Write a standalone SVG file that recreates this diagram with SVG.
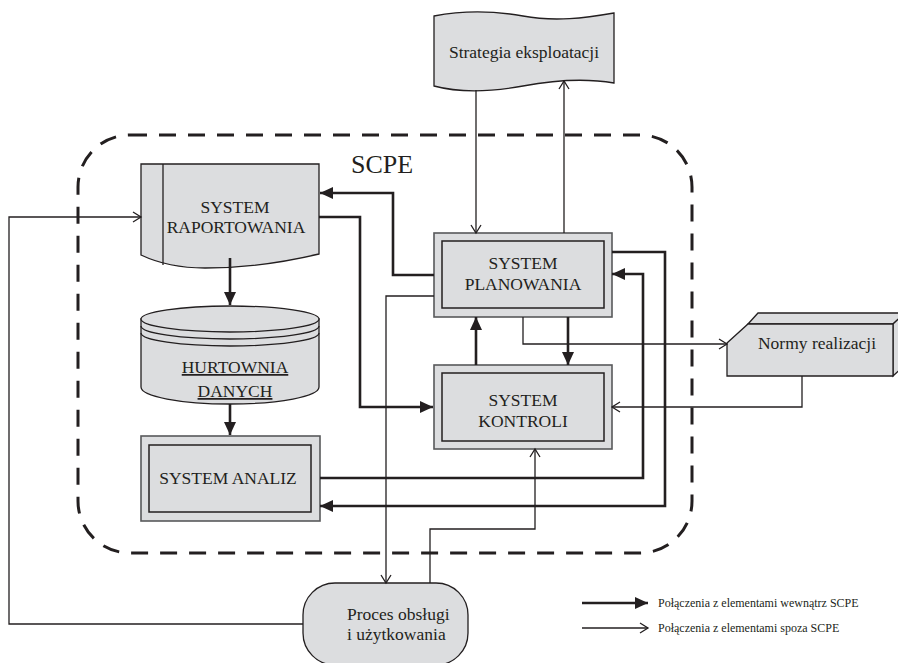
<svg xmlns="http://www.w3.org/2000/svg" width="898" height="663" viewBox="0 0 898 663">
<style>
text{font-family:"Liberation Serif","Times New Roman",serif;fill:#231f20;}
.t{font-size:17.5px;text-anchor:middle;}
.shape{fill:#dcdddf;stroke:#231f20;stroke-width:1.3;}
.outer{fill:#dcdddf;stroke:#58595b;stroke-width:1.6;}
.inner{fill:#dcdddf;stroke:#231f20;stroke-width:1.5;}
.thick{fill:none;stroke:#231f20;stroke-width:2.6;marker-end:url(#af);}
.thin{fill:none;stroke:#231f20;stroke-width:1.3;marker-end:url(#ao);}
.plain{fill:none;stroke:#231f20;stroke-width:1.3;}
</style>
<defs>
<marker id="af" markerUnits="userSpaceOnUse" markerWidth="14" markerHeight="12" refX="13" refY="6" orient="auto"><path d="M0,0 L13,6 L0,12 z" fill="#231f20"/></marker>
<marker id="ao" markerUnits="userSpaceOnUse" markerWidth="12" markerHeight="12" refX="10" refY="6" orient="auto"><path d="M2,1 L10,6 L2,11" fill="none" stroke="#231f20" stroke-width="1.3"/></marker>
</defs>
<rect width="898" height="663" fill="#ffffff"/>

<g id="boundary">
<rect x="78" y="135" width="614" height="418" rx="52" fill="none" stroke="#231f20" stroke-width="3" stroke-dasharray="17,12"/>
<text x="382" y="173" style="font-size:26px;text-anchor:middle">SCPE</text>
</g>

<g id="strategia">
<path class="shape" d="M434,16 C465,10 495,11 523,16 C555,22 585,18 614,13 L614,83 C585,78 555,80 523,86 C490,92 460,93 434,86 Z"/>
<text class="t" x="524" y="58">Strategia eksploatacji</text>
</g>

<g id="raportowania">
<path class="shape" d="M141,164 H319 V254 C285,262 250,268 205,268 C180,268 160,264 141,255 Z"/>
<line x1="163" y1="164" x2="163" y2="265" stroke="#231f20" stroke-width="1.3"/>
<text class="t" x="235" y="213">SYSTEM</text>
<text class="t" x="236" y="233">RAPORTOWANIA</text>
</g>

<g id="hurtownia">
<path class="shape" d="M141,319 V387 A89,17 0 0 0 319,387 V319 Z"/>
<ellipse class="shape" cx="230" cy="319" rx="89" ry="13"/>
<path class="plain" d="M141,326 A89,13 0 0 0 319,326"/>
<path class="plain" d="M141,333 A89,13 0 0 0 319,333"/>
<text class="t" x="235" y="373" text-decoration="underline">HURTOWNIA</text>
<text class="t" x="235" y="397" text-decoration="underline">DANYCH</text>
</g>

<g id="analiz">
<rect class="outer" x="141" y="436" width="179" height="85"/>
<rect class="inner" x="149" y="445" width="162" height="67"/>
<text class="t" x="228" y="484">SYSTEM ANALIZ</text>
</g>

<g id="planowania">
<rect class="outer" x="434" y="233" width="178" height="84"/>
<rect class="inner" x="442" y="241" width="162" height="67"/>
<text class="t" x="523" y="269">SYSTEM</text>
<text class="t" x="523" y="290">PLANOWANIA</text>
</g>

<g id="kontroli">
<rect class="outer" x="434" y="365" width="178" height="84"/>
<rect class="inner" x="442" y="373" width="162" height="68"/>
<text class="t" x="523" y="406">SYSTEM</text>
<text class="t" x="523" y="427">KONTROLI</text>
</g>

<g id="normy">
<path class="shape" d="M748,324 L758,313 L905,313 L893,324 Z"/>
<path class="shape" d="M893,324 L905,313 L905,365 L893,376 Z"/>
<path class="shape" d="M727,343 L748,324 L893,324 L893,376 L727,376 Z"/>
<text class="t" x="817" y="349">Normy realizacji</text>
</g>

<g id="proces">
<rect class="shape" x="303" y="583" width="165" height="82" rx="32"/>
<text x="347" y="620" style="font-size:17.5px">Proces obsługi</text>
<text x="347" y="640" style="font-size:17.5px">i użytkowania</text>
</g>

<g id="connectors">
<path class="thick" d="M230,258 V305"/>
<path class="thick" d="M230,404 V435"/>
<path class="thick" d="M434,275 H393 V193 H320"/>
<path class="thick" d="M319,217 H360 V407 H433"/>
<path class="thin" d="M434,296 H386 V583"/>
<path class="thin" d="M476,90 V233"/>
<path class="thin" d="M564,233 V81"/>
<path class="thin" d="M523,317 V344 H727"/>
<path class="thick" d="M568,317 V365"/>
<path class="thick" d="M476,365 V317"/>
<path class="thin" d="M802,376 V407 H612"/>
<path class="thin" d="M430,583 V529 H535 V449"/>
<path class="thick" d="M612,252 H665 V506 H320"/>
<path class="thick" d="M320,478 H643 V274 H612"/>
<path class="thin" d="M303,624 H9 V217 H141"/>
</g>

<g id="legend">
<path class="thick" d="M582,603 H648"/>
<text x="658" y="607" style="font-size:12px">Połączenia z elementami wewnątrz SCPE</text>
<path class="thin" d="M582,628 H648"/>
<text x="658" y="632" style="font-size:12px">Połączenia z elementami spoza SCPE</text>
</g>
</svg>
